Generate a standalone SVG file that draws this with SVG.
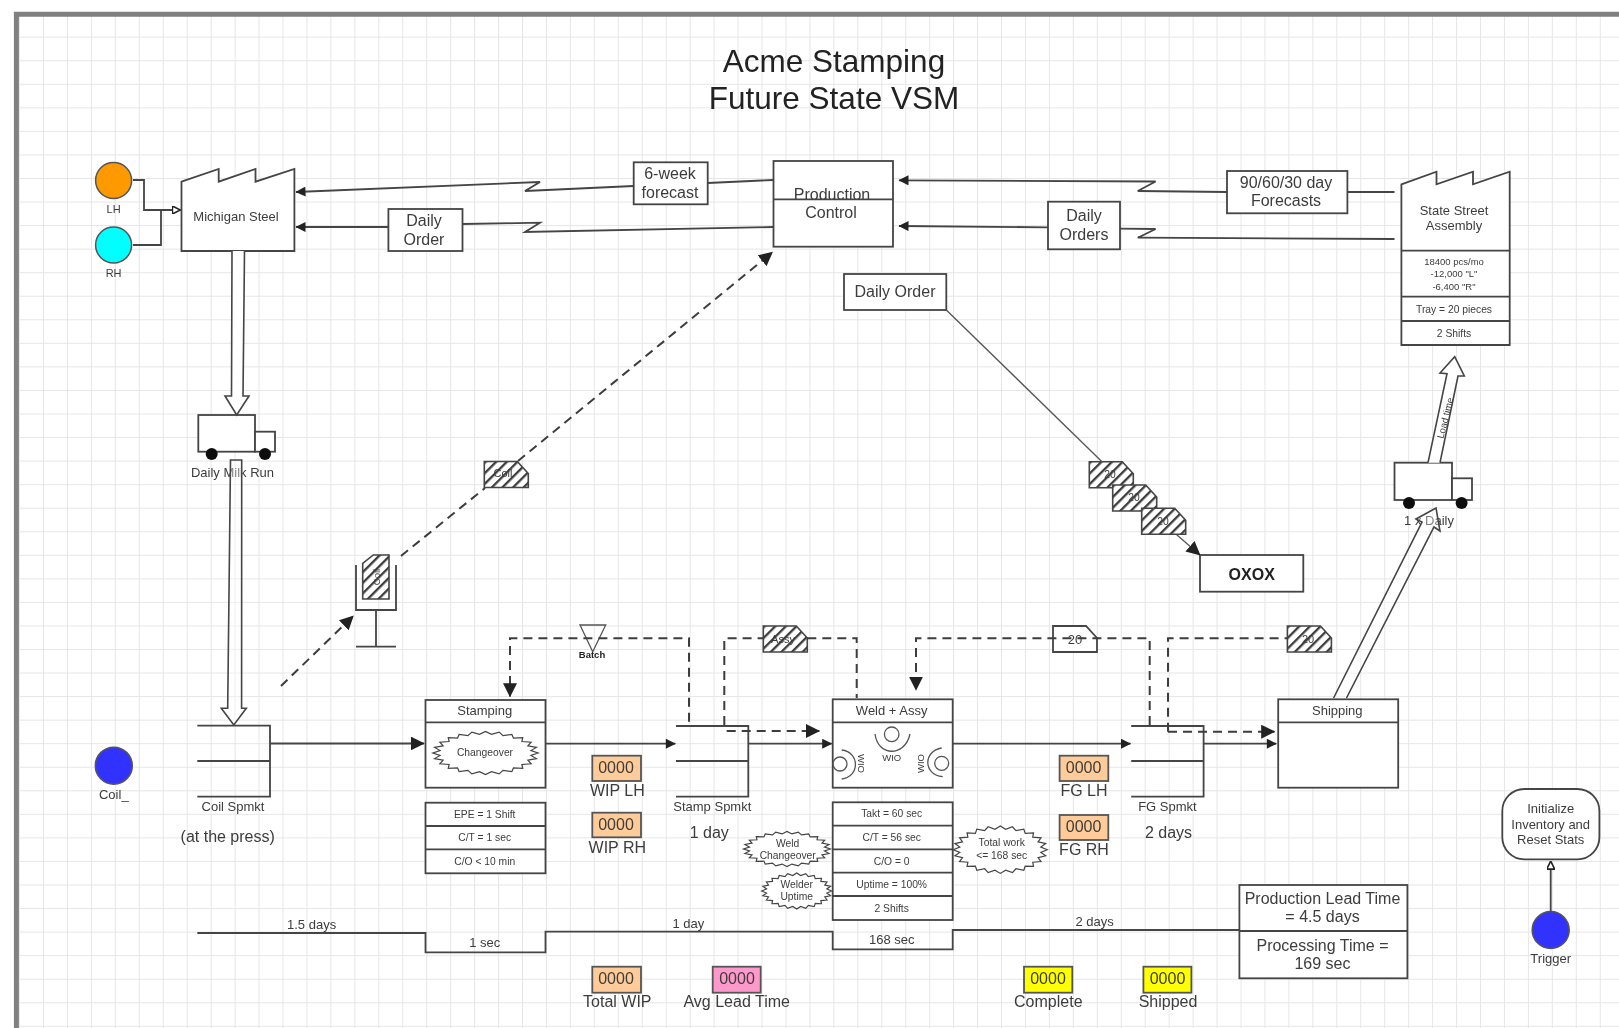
<svg xmlns="http://www.w3.org/2000/svg" width="1619" height="1028" viewBox="0 0 1619 1028">
<style>
text{font-family:"Liberation Sans",Arial,sans-serif;fill:#3c3c3c;text-anchor:middle;dominant-baseline:central}
.s9{font-size:9.5px}.s10{font-size:10.3px}.s11{font-size:11px}.s13{font-size:13px}.s16{font-size:16px}
.title{font-size:31.5px;fill:#222;dominant-baseline:auto}
.b{font-weight:bold;fill:#222}
.box{fill:#fff;stroke:#444;stroke-width:1.8}
.ln{fill:none;stroke:#444;stroke-width:1.8}
.thin{fill:none;stroke:#555;stroke-width:1.3}
.dash{fill:none;stroke:#3c3c3c;stroke-width:2;stroke-dasharray:9 6}
.hollow{fill:#fff;stroke:#444;stroke-width:1.6}
.hollow2{fill:#fff;fill-opacity:.35;stroke:#444;stroke-width:1.6}
.org{fill:#ffcc99;stroke:#555;stroke-width:1.8}
.pnk{fill:#ff99cc;stroke:#555;stroke-width:1.8}
.yel{fill:#ffff00;stroke:#555;stroke-width:1.8}
.circ{stroke:#555;stroke-width:1.5}
.burst{fill:#fff;stroke:#444;stroke-width:1.2;vector-effect:non-scaling-stroke}
.stk{fill:url(#hatch);stroke:#444;stroke-width:1.6}
</style>
<defs>
<filter id="soft" x="0" y="0" width="100%" height="100%" filterUnits="objectBoundingBox"><feGaussianBlur stdDeviation="0.7"/></filter>
<pattern id="grid" width="23.95" height="23.55" patternUnits="userSpaceOnUse" x="43" y="36.7">
<path d="M0 0V23.55M0 0H23.95" fill="none" stroke="#e6e6e6" stroke-width="2"/>
</pattern>
<pattern id="hatch" width="7.5" height="7.5" patternUnits="userSpaceOnUse" patternTransform="rotate(45)">
<rect width="7.5" height="7.5" fill="#fff"/><rect width="2.3" height="7.5" fill="#3c3c3c"/>
</pattern>
<marker id="ah" viewBox="0 0 10 10" refX="9.5" refY="5" markerWidth="11" markerHeight="10" markerUnits="userSpaceOnUse" orient="auto"><path d="M0 0L10 5L0 10Z" fill="#222"/></marker>
<marker id="al" viewBox="0 0 10 10" refX="9.5" refY="5" markerWidth="14" markerHeight="14" markerUnits="userSpaceOnUse" orient="auto"><path d="M0 0L10 5L0 10Z" fill="#222"/></marker>
<marker id="ao" viewBox="0 0 10 10" refX="9.5" refY="5" markerWidth="9" markerHeight="8" markerUnits="userSpaceOnUse" orient="auto"><path d="M0 0L10 5L0 10Z" fill="#fff" stroke="#222" stroke-width="2"/></marker>
<path id="bst" class="burst" d="M1 0L.862 .114L.966 .259L.804 .333L.866 .5L.69 .53L.707 .707L.53 .69L.5 .866L.333 .804L.259 .966L.114 .862L0 1L-.114 .862L-.259 .966L-.333 .804L-.5 .866L-.53 .69L-.707 .707L-.69 .53L-.866 .5L-.804 .333L-.966 .259L-.862 .114L-1 0L-.862 -.114L-.966 -.259L-.804 -.333L-.866 -.5L-.69 -.53L-.707 -.707L-.53 -.69L-.5 -.866L-.333 -.804L-.259 -.966L-.114 -.862L0 -1L.114 -.862L.259 -.966L.333 -.804L.5 -.866L.53 -.69L.707 -.707L.69 -.53L.866 -.5L.804 -.333L.966 -.259L.862 -.114Z"/>
<path id="stock" class="stk" d="M0 0H33L44 12V26H0Z"/>
<path id="stockPlain" class="box" d="M0 0H33L44 12V26H0Z"/>
</defs>
<g filter="url(#soft)">
<rect id="background" width="1619" height="1028" fill="#fff"/>
<rect id="gridlines" x="18" y="16" width="1601" height="1012" fill="url(#grid)"/>
<path id="frame" d="M16.4 1028V14.2H1619" fill="none" stroke="#808080" stroke-width="5"/>
<g id="title"><text class="title" x="834" y="72">Acme Stamping</text><text class="title" x="834" y="109">Future State VSM</text></g>

<g id="lh"><circle class="circ" cx="113.6" cy="180.5" r="18" fill="#ff9900"/><text class="s11" x="113.6" y="209">LH</text></g>
<g id="rh"><circle class="circ" cx="113.6" cy="245" r="18" fill="#00ffff"/><text class="s11" x="113.6" y="273">RH</text></g>
<g id="michigan-steel"><path class="box" d="M181.5 181.7L218.7 169V181.7L255.5 169V181.7L294.4 169V251H181.5Z"/><text class="s13" x="236" y="216">Michigan Steel</text></g>
<g id="daily-order-left"><rect class="box" x="388.4" y="209" width="74.1" height="42"/><text class="s16" x="424" y="220.5">Daily</text><text class="s16" x="424" y="239">Order</text></g>
<g id="six-week"><rect class="box" x="633.7" y="162.3" width="74" height="42"/><text class="s16" x="670" y="173.5">6-week</text><text class="s16" x="670" y="192">forecast</text></g>
<g id="production-control"><rect class="box" x="773.5" y="161" width="119.5" height="85.7"/><text class="s16" x="832" y="194">Production</text><path class="ln" d="M773.5 199.3H893"/><text class="s16" x="831" y="212.5">Control</text></g>
<g id="daily-orders"><rect class="box" x="1048" y="201.7" width="72" height="47.6"/><text class="s16" x="1084" y="215">Daily</text><text class="s16" x="1084" y="234">Orders</text></g>
<g id="forecasts"><rect class="box" x="1227" y="171" width="120.4" height="42.3"/><text class="s16" x="1286" y="182.3">90/60/30 day</text><text class="s16" x="1286" y="200.7">Forecasts</text></g>
<g id="state-street"><path class="box" d="M1401.4 184.3L1436.5 171.7V184.3L1473 171.7V184.3L1509.7 171.7V345H1401.4Z"/><path class="ln" d="M1401.4 250.7H1509.7M1401.4 296.7H1509.7M1401.4 321H1509.7"/>
<text class="s13" x="1454" y="210">State Street</text><text class="s13" x="1454" y="225">Assembly</text><text class="s9" x="1454" y="261.5">18400 pcs/mo</text><text class="s9" x="1454" y="273.7">-12,000 "L"</text><text class="s9" x="1454" y="286">-6,400 "R"</text><text class="s10" x="1454" y="309">Tray = 20 pieces</text><text class="s10" x="1454" y="333">2 Shifts</text></g>
<g id="daily-order-main"><rect class="box" x="844" y="274" width="102.3" height="36"/><text class="s16" x="895" y="291">Daily Order</text></g>
<g id="truck-in"><rect class="box" x="198.3" y="415" width="56.7" height="36.7"/><rect class="box" x="255" y="431.7" width="20" height="20"/><circle cx="211.7" cy="454" r="6" fill="#111"/><circle cx="265" cy="454" r="6" fill="#111"/><text class="s13" x="232.5" y="472">Daily Milk Run</text></g>
<g id="truck-out"><rect class="box" x="1394.5" y="462.7" width="57.5" height="37.3"/><rect class="box" x="1452" y="478.3" width="20" height="21.7"/><circle cx="1409" cy="503" r="6" fill="#111"/><circle cx="1461.6" cy="503" r="6" fill="#111"/><text class="s13" x="1429" y="520">1 x Daily</text></g>
<g id="stock-coil"><use href="#stock" x="484.3" y="461.5"/><text class="s11" x="503" y="473">Coil</text></g>
<g id="kanban-post"><path class="ln" d="M356 565V610H396V565M376 610V646.7M356 646.7H396"/><path class="stk" d="M373.3 555H389V599H362.7V563.5Z"/><text class="s9" transform="translate(376 577) rotate(-90)">Coil</text></g>
<g id="stock-a"><use href="#stock" x="1089.3" y="461.7"/><text class="s10" x="1110" y="474">20</text></g>
<g id="stock-b"><use href="#stock" x="1112.7" y="485"/><text class="s10" x="1134" y="497">20</text></g>
<g id="stock-c"><use href="#stock" x="1141.7" y="508.3"/><text class="s10" x="1163" y="521">20</text></g>
<g id="oxox"><rect class="box" x="1200" y="555" width="103.3" height="36.7"/><text class="s16 b" x="1251.7" y="574.3">OXOX</text></g>
<g id="batch"><path class="thin" d="M580 625H605.7L592.7 651.7Z"/><text class="s9 b" x="592" y="654">Batch</text></g>
<g id="stock-assy"><use href="#stock" x="763.3" y="626"/><text class="s11" x="783" y="639">Assy</text></g>
<g id="kanban-20"><use href="#stockPlain" x="1053" y="626"/><text class="s13" x="1075" y="639">20</text></g>
<g id="stock-ship"><use href="#stock" x="1287.4" y="626"/><text class="s11" x="1308" y="639">20</text></g>

<g id="coil"><circle class="circ" cx="113.8" cy="765.7" r="18.5" fill="#3333ff"/><text class="s13" x="113.8" y="794.5">Coil_</text></g>
<g id="coil-spmkt"><path class="ln" d="M197.3 725.7H270V796.7H197.3M197.3 761H270"/><text class="s13" x="233" y="806">Coil Spmkt</text><text class="s16" x="227.7" y="836">(at the press)</text></g>
<g id="stamping"><rect class="box" x="425.5" y="700" width="120" height="87.7"/><path class="ln" d="M425.5 722.3H545.5"/><text class="s13" x="484.7" y="710">Stamping</text>
<use href="#bst" transform="translate(485.5 753) scale(52.7 21.6)"/><text class="s10" x="485" y="752">Changeover</text></g>
<g id="stamping-data"><rect class="box" x="425.5" y="802.7" width="120" height="70.6"/><path class="ln" d="M425.5 826H545.5M425.5 849.3H545.5"/><text class="s10" x="484.7" y="814">EPE = 1 Shift</text><text class="s10" x="484.7" y="837.5">C/T = 1 sec</text><text class="s10" x="484.7" y="861">C/O &lt; 10 min</text></g>
<g id="wip-lh"><rect class="org" x="592.3" y="755.7" width="48.7" height="25.3"/><text class="s16" x="616" y="767">0000</text><text class="s16" x="617.3" y="790">WIP LH</text></g>
<g id="wip-rh"><rect class="org" x="592.3" y="812.7" width="48.7" height="24.6"/><text class="s16" x="616" y="824">0000</text><text class="s16" x="617.3" y="847">WIP RH</text></g>
<g id="stamp-spmkt"><path class="ln" d="M676 726H748.3V796.7H676M676 761H748.3"/><text class="s13" x="712.3" y="806">Stamp Spmkt</text><text class="s16" x="709.3" y="832.3">1 day</text></g>
<g id="weld"><rect class="box" x="832.7" y="699.3" width="120" height="88.4"/><path class="ln" d="M832.7 722.3H952.7"/><text class="s13" x="891.7" y="710">Weld + Assy</text>
<circle class="thin" cx="891.7" cy="734.3" r="7.3"/><path class="thin" d="M875 734C878 757 905 757 910 734"/><text class="s9" x="891.7" y="757">WIO</text>
<circle class="thin" cx="840" cy="764" r="7"/><path class="thin" d="M841.7 750C860 752 860 777 841.7 779"/><text class="s9" transform="translate(861 763.5) rotate(90)">WIO</text>
<circle class="thin" cx="941.7" cy="763.3" r="7"/><path class="thin" d="M941.7 748C923 751 923 775 942.7 776.7"/><text class="s9" transform="translate(920.5 763.5) rotate(-90)">WIO</text></g>
<g id="weld-data"><rect class="box" x="832.7" y="802.3" width="120" height="117.7"/><path class="ln" d="M832.7 825.7H952.7M832.7 849.3H952.7M832.7 872.7H952.7M832.7 896H952.7"/><text class="s10" x="891.7" y="813.7">Takt = 60 sec</text><text class="s10" x="891.7" y="837.5">C/T = 56 sec</text><text class="s10" x="891.7" y="861">C/O = 0</text><text class="s10" x="891.7" y="884.3">Uptime = 100%</text><text class="s10" x="891.7" y="908">2 Shifts</text></g>
<g id="weld-changeover"><use href="#bst" transform="translate(787 849) scale(43.5 17.5)"/><text class="s10" x="787.7" y="843">Weld</text><text class="s10" x="787.7" y="855">Changeover</text></g>
<g id="welder-uptime"><use href="#bst" transform="translate(796.7 891) scale(35 18)"/><text class="s10" x="796.7" y="884">Welder</text><text class="s10" x="796.7" y="896">Uptime</text></g>
<g id="total-work"><use href="#bst" transform="translate(1000.3 849.7) scale(47 23.7)"/><text class="s10" x="1001.7" y="842.7">Total work</text><text class="s10" x="1001.7" y="855">&lt;= 168 sec</text></g>
<g id="fg-lh"><rect class="org" x="1059.6" y="755.7" width="48.7" height="25.3"/><text class="s16" x="1083.6" y="767">0000</text><text class="s16" x="1084" y="790">FG LH</text></g>
<g id="fg-rh"><rect class="org" x="1059.6" y="815" width="48.7" height="25"/><text class="s16" x="1083.6" y="826">0000</text><text class="s16" x="1084" y="849">FG RH</text></g>
<g id="fg-spmkt"><path class="ln" d="M1131.2 726H1203.6V796.7H1131.2M1131.2 761H1203.6"/><text class="s13" x="1167.4" y="806">FG Spmkt</text><text class="s16" x="1168.5" y="832.5">2 days</text></g>
<g id="shipping"><rect class="box" x="1278.2" y="699.3" width="120" height="88.4"/><path class="ln" d="M1278.2 722.3H1398.2"/><text class="s13" x="1337.3" y="710">Shipping</text></g>
<g id="lead-time"><rect class="box" x="1239.4" y="885" width="168" height="93.3"/><path class="ln" d="M1239.4 931H1407.4"/><text class="s16" x="1322.5" y="898.3">Production Lead Time</text><text class="s16" x="1322.5" y="916.7">= 4.5 days</text><text class="s16" x="1322.5" y="945">Processing Time =</text><text class="s16" x="1322.5" y="963.3">169 sec</text></g>
<g id="initialize"><rect class="box" x="1502.3" y="789" width="97.1" height="70.3" rx="22"/><text class="s13" x="1550.7" y="808.3">Initialize</text><text class="s13" x="1550.7" y="824">Inventory and</text><text class="s13" x="1550.7" y="839.3">Reset Stats</text></g>
<g id="trigger"><circle class="circ" cx="1550.7" cy="930" r="18.5" fill="#3333ff"/><text class="s13" x="1550.7" y="958.3">Trigger</text></g>
<g id="total-wip"><rect class="org" x="592.3" y="966.7" width="48.7" height="26"/><text class="s16" x="616" y="978.3">0000</text><text class="s16" x="617.3" y="1001.7">Total WIP</text></g>
<g id="avg-lead"><rect class="pnk" x="712.7" y="966.7" width="48" height="26"/><text class="s16" x="737" y="978.3">0000</text><text class="s16" x="736.7" y="1001.7">Avg Lead Time</text></g>
<g id="complete"><rect class="yel" x="1024" y="966.7" width="48.3" height="26"/><text class="s16" x="1048" y="978.3">0000</text><text class="s16" x="1048.3" y="1001.7">Complete</text></g>
<g id="shipped"><rect class="yel" x="1143.4" y="966.7" width="48" height="26"/><text class="s16" x="1167.5" y="978.3">0000</text><text class="s16" x="1168" y="1001.7">Shipped</text></g>
<g id="timeline"><path class="ln" d="M197.3 933H425.5V952.3H545.5V931.7H832.7V949.3H952.7V930H1239.4"/><text class="s13" x="311.6" y="924">1.5 days</text><text class="s13" x="484.7" y="942.3">1 sec</text><text class="s13" x="688.3" y="923.3">1 day</text><text class="s13" x="891.7" y="939.3">168 sec</text><text class="s13" x="1094.7" y="921.7">2 days</text></g>

<g id="connectors">
<path class="ln" d="M133 180H144V210H180" marker-end="url(#ao)"/>
<path class="ln" d="M133 245H161V210"/>
<path class="ln" d="M633.7 186L525 191L540 182L296 192" marker-end="url(#ah)"/>
<path class="ln" d="M773 180L707.7 183"/>
<path class="ln" d="M773.5 227L525 232L540 222.7L462.5 224"/>
<path class="ln" d="M388.4 227H296" marker-end="url(#ah)"/>
<path class="ln" d="M1227 192L1137.8 191L1155.6 181.5L899 180.3" marker-end="url(#ah)"/>
<path class="ln" d="M1347.4 192H1394.5"/>
<path class="ln" d="M1394.5 239L1137.8 237.7L1155.6 229L1120 228.7"/>
<path class="ln" d="M1048 227.3L899 226" marker-end="url(#ah)"/>
<path class="thin" d="M946.3 310L1102 461.7"/>
<path class="thin" d="M1176.7 534.7L1200 555" marker-end="url(#al)"/>
<path class="ln" d="M270 743.5H424" marker-end="url(#al)"/>
<path class="ln" d="M545.5 743.7H675.3" marker-end="url(#ah)"/>
<path class="ln" d="M748.3 743.7H831.7" marker-end="url(#ah)"/>
<path class="ln" d="M952.7 743.7H1130.5" marker-end="url(#ah)"/>
<path class="ln" d="M1203.6 743.7H1276.3" marker-end="url(#ah)"/>
<path class="ln" d="M1550.7 911.5V861.5" marker-end="url(#ao)"/>
<path class="dash" d="M281 686L353.3 616" marker-end="url(#al)"/>
<path class="dash" d="M401 556L485 488"/>
<path class="dash" d="M518 461L772.4 252.3" marker-end="url(#al)"/>
<path class="dash" d="M689 721.7V638.3H510V696.5" marker-end="url(#al)"/>
<path class="dash" d="M724.3 725V638.3H763.3"/>
<path class="dash" d="M807.3 638.3H856.7V698"/>
<path class="dash" d="M726.7 731H819.3" marker-end="url(#al)"/>
<path class="dash" d="M1149.7 725V638.3H916V690" marker-end="url(#al)"/>
<path class="dash" d="M1168 731.7V638.3H1287.4"/>
<path class="dash" d="M1168 731.7H1274.5" marker-end="url(#al)"/>
<path class="hollow" d="M232 251L231.5 396H225L236.7 415L249 396H243L244.5 251"/>
<path class="hollow2" d="M230.5 460H241.7L241.6 708.3H246.3L233.8 725L221.3 708.3H227.7Z"/>
<path class="hollow2" d="M1333.6 698L1422 522L1416 519L1436 508L1440 531L1434 527L1346.5 698"/>
<path class="hollow" d="M1428 462.7L1447 373.7L1440 373L1454.7 356.7L1464.3 376L1458 376L1440 462.7"/>
<text class="s9" transform="translate(1445 418) rotate(-76)">Load time</text>
</g>
</g>
</svg>
